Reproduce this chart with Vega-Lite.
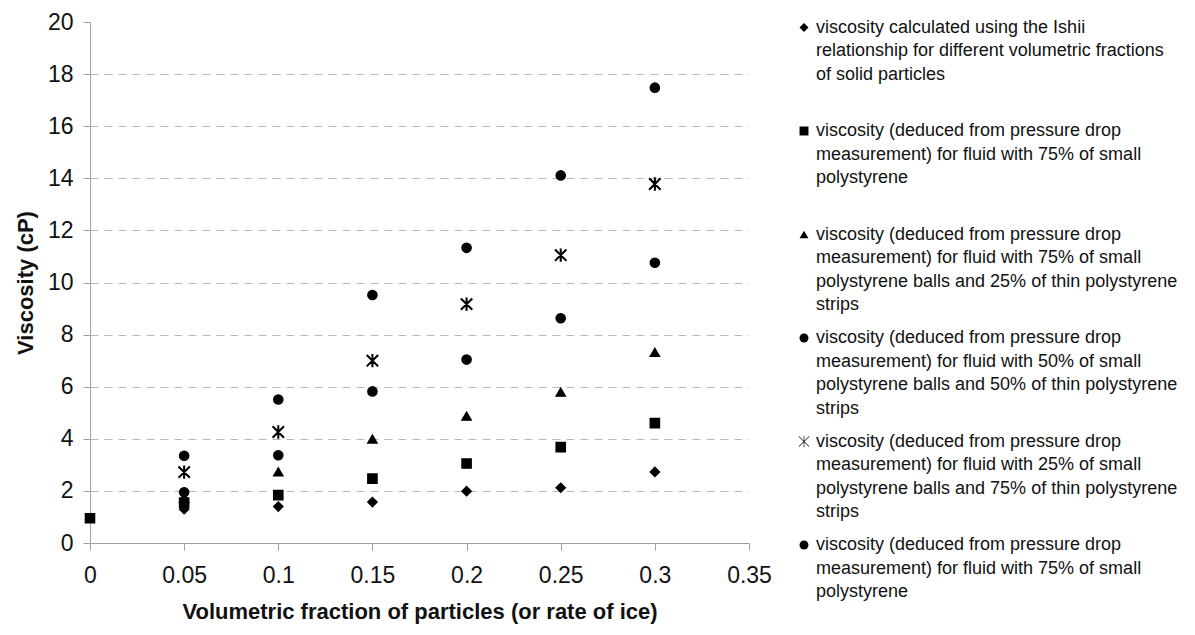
{
  "$schema": "https://vega.github.io/schema/vega-lite/v6.json",
  "autosize": {"type": "none"},
  "padding": {"left": 90, "top": 22, "right": 446, "bottom": 92},
  "width": 659,
  "height": 521,
  "background": "white",
  "config": {
    "view": {"stroke": null},
    "font": "Liberation Sans",
    "style": {"guide-label": {"lineHeight": 23.5}},
    "axis": {
      "labelFont": "Liberation Sans",
      "labelFontSize": 23,
      "labelColor": "#111111",
      "titleFont": "Liberation Sans",
      "titleFontSize": 22,
      "titleFontWeight": "bold",
      "titleColor": "#111111",
      "domainColor": "#a0a0a0",
      "tickColor": "#a0a0a0",
      "tickSize": 7
    }
  },
  "data": {
    "values": [
      {"phi": 0, "visc": 0.95, "series": "b"},
      {"phi": 0.05, "visc": 1.3, "series": "a"},
      {"phi": 0.1, "visc": 1.4, "series": "a"},
      {"phi": 0.15, "visc": 1.57, "series": "a"},
      {"phi": 0.2, "visc": 1.99, "series": "a"},
      {"phi": 0.25, "visc": 2.12, "series": "a"},
      {"phi": 0.3, "visc": 2.73, "series": "a"},
      {"phi": 0.05, "visc": 1.55, "series": "b"},
      {"phi": 0.1, "visc": 1.84, "series": "b"},
      {"phi": 0.15, "visc": 2.47, "series": "b"},
      {"phi": 0.2, "visc": 3.05, "series": "b"},
      {"phi": 0.25, "visc": 3.68, "series": "b"},
      {"phi": 0.3, "visc": 4.6, "series": "b"},
      {"phi": 0.05, "visc": 1.72, "series": "c"},
      {"phi": 0.1, "visc": 2.73, "series": "c"},
      {"phi": 0.15, "visc": 3.99, "series": "c"},
      {"phi": 0.2, "visc": 4.87, "series": "c"},
      {"phi": 0.25, "visc": 5.79, "series": "c"},
      {"phi": 0.3, "visc": 7.32, "series": "c"},
      {"phi": 0.05, "visc": 1.95, "series": "d"},
      {"phi": 0.1, "visc": 3.37, "series": "d"},
      {"phi": 0.15, "visc": 5.82, "series": "d"},
      {"phi": 0.2, "visc": 7.04, "series": "d"},
      {"phi": 0.25, "visc": 8.63, "series": "d"},
      {"phi": 0.3, "visc": 10.76, "series": "d"},
      {"phi": 0.05, "visc": 2.72, "series": "e"},
      {"phi": 0.1, "visc": 4.26, "series": "e"},
      {"phi": 0.15, "visc": 7.0, "series": "e"},
      {"phi": 0.2, "visc": 9.17, "series": "e"},
      {"phi": 0.25, "visc": 11.05, "series": "e"},
      {"phi": 0.3, "visc": 13.78, "series": "e"},
      {"phi": 0.05, "visc": 3.35, "series": "f"},
      {"phi": 0.1, "visc": 5.51, "series": "f"},
      {"phi": 0.15, "visc": 9.52, "series": "f"},
      {"phi": 0.2, "visc": 11.33, "series": "f"},
      {"phi": 0.25, "visc": 14.11, "series": "f"},
      {"phi": 0.3, "visc": 17.48, "series": "f"}
    ]
  },
  "mark": {"type": "point", "filled": true, "color": "black", "stroke": "black", "strokeWidth": 1.4, "opacity": 1},
  "encoding": {
    "x": {
      "field": "phi",
      "type": "quantitative",
      "scale": {"domain": [0, 0.35], "nice": false, "zero": false},
      "axis": {
        "title": "Volumetric fraction of particles (or rate of ice)",
        "values": [0, 0.05, 0.1, 0.15, 0.2, 0.25, 0.3, 0.35],
        "format": "~g",
        "grid": false,
        "labelFlush": false,
        "labelPadding": 14,
        "titlePadding": 14
      }
    },
    "y": {
      "field": "visc",
      "type": "quantitative",
      "scale": {"domain": [0, 20], "nice": false},
      "axis": {
        "title": "Viscosity (cP)",
        "values": [0, 2, 4, 6, 8, 10, 12, 14, 16, 18, 20],
        "grid": true,
        "gridColor": "#b8b8b8",
        "gridDash": [8, 6],
        "gridWidth": 1,
        "gridOpacity": {"condition": {"test": "datum.value === 0 || datum.value === 20", "value": 0}, "value": 1},
        "labelFlush": false,
        "labelPadding": 10,
        "titlePadding": 10
      }
    },
    "shape": {
      "field": "series",
      "type": "nominal",
      "scale": {
        "domain": ["a", "b", "c", "d", "e", "f"],
        "range": ["diamond", "square", "triangle-up", "circle", "M-0.07,-1.3L0.07,-1.3L0.07,1.3L-0.07,1.3ZM-1.08,-1.18L1.18,1.08L1.08,1.18L-1.18,-1.08ZM-1.18,1.08L1.08,-1.18L1.18,-1.08L-1.08,1.18Z", "circle"]
      },
      "legend": {
        "orient": "none",
        "legendX": 705,
        "legendY": -3.5,
        "title": null,
        "padding": 0,
        "gridAlign": "all",
        "rowPadding": 14.5,
        "symbolSize": 80,
        "symbolFillColor": "black",
        "symbolStrokeColor": "black",
        "symbolStrokeWidth": 1.2,
        "labelFont": "Liberation Sans",
        "labelFontSize": 18,
        "labelColor": "#111111",
        "labelLimit": 600,
        "labelOffset": 3,
        "labelBaseline": "middle",
        "labelExpr": "({'a': ['viscosity calculated using the Ishii', 'relationship for different volumetric fractions', 'of solid particles'], 'b': ['viscosity (deduced from pressure drop', 'measurement) for fluid with 75% of small', 'polystyrene'], 'c': ['viscosity (deduced from pressure drop', 'measurement) for fluid with 75% of small', 'polystyrene balls and 25% of thin polystyrene', 'strips'], 'd': ['viscosity (deduced from pressure drop', 'measurement) for fluid with 50% of small', 'polystyrene balls and 50% of thin polystyrene', 'strips'], 'e': ['viscosity (deduced from pressure drop', 'measurement) for fluid with 25% of small', 'polystyrene balls and 75% of thin polystyrene', 'strips'], 'f': ['viscosity (deduced from pressure drop', 'measurement) for fluid with 75% of small', 'polystyrene']})[datum.label]",
        "encode": {
          "labels": {"update": {"lineHeight": {"value": 23.5}}},
          "symbols": {"update": {"fill": {"value": "black"}, "stroke": {"value": "black"}, "strokeWidth": {"value": 1.2}}}
        }
      }
    },
    "size": {"value": 85}
  }
}
